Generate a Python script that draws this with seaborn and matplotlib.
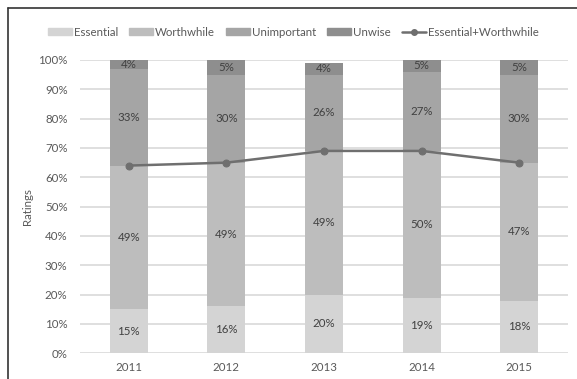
import numpy as np
import pandas as pd
import matplotlib
matplotlib.use("Agg")
import matplotlib.pyplot as plt
from matplotlib.lines import Line2D
from matplotlib.ticker import PercentFormatter
import seaborn as sns

years = ["2011", "2012", "2013", "2014", "2015"]
essential = [15, 16, 20, 19, 18]
worthwhile = [49, 49, 49, 50, 47]
unimportant = [33, 30, 26, 27, 30]
unwise = [4, 5, 4, 5, 5]
series_names = ["Essential", "Worthwhile", "Unimportant", "Unwise"]
combined_name = "Essential+Worthwhile"

colors = ["#d4d4d4", "#bdbdbd", "#a5a5a5", "#8e8e8e"]
line_color = "#6f6f6f"
text_color = "#595959"
grid_color = "#d9d9d9"
fs = 8.3

sns.set_theme(style="white")
plt.rcParams["font.family"] = ["Lato", "DejaVu Sans"]

fig = plt.figure(figsize=(5.77, 3.79), dpi=100)
ax = fig.add_axes([80 / 577, 1 - 353.3 / 379, 488 / 577, 293.3 / 379])

layers = [essential, worthwhile, unimportant, unwise]
bottom = np.zeros(len(years))
handles = []
for name, vals, col in zip(series_names, layers, colors):
    vals = np.array(vals, dtype=float)
    df = pd.DataFrame({"year": years, "value": vals})
    sns.barplot(data=df, x="year", y="value", color=col, bottom=bottom,
                width=0.39, ax=ax, saturation=1, edgecolor="none",
                zorder=2)
    for i, (b, v) in enumerate(zip(bottom, vals)):
        top = min(b + v, 100)
        ax.text(i, (b + top) / 2, f"{int(v)}%", ha="center", va="center",
                fontsize=fs, color="#404040", zorder=4)
    handles.append(plt.Rectangle((0, 0), 1, 1, color=col))
    bottom = bottom + vals

combined = [e + w for e, w in zip(essential, worthwhile)]
sns.lineplot(x=np.arange(len(years)), y=combined, color=line_color,
             linewidth=1.8, marker="o", markersize=5, markeredgecolor=line_color,
             ax=ax, zorder=5)
handles.append(Line2D([0], [0], color=line_color, lw=1.8, marker="o",
                      markersize=4))

ax.set_ylim(0, 100)
ax.set_xlim(-0.5, len(years) - 0.5)
ax.set_yticks(np.arange(0, 101, 10))
ax.yaxis.set_major_formatter(PercentFormatter(decimals=0))
ax.yaxis.grid(True, color=grid_color, linewidth=1.2, zorder=0)
ax.set_axisbelow(True)
for s in ax.spines.values():
    s.set_visible(False)
ax.tick_params(axis="both", length=0, labelsize=fs, labelcolor=text_color)
ax.tick_params(axis="y", pad=9)
ax.tick_params(axis="x", pad=6)
ax.set_xlabel("")
ax.set_ylabel("Ratings", fontsize=fs, color=text_color)
ax.yaxis.set_label_coords(-0.096, 0.5)

fig.legend(handles, series_names + [combined_name], loc="center",
           bbox_to_anchor=(0.508, 1 - 32 / 379), ncol=5, frameon=False,
           fontsize=fs, labelcolor=text_color, handlelength=2.1,
           handleheight=0.6, handletextpad=0.15, columnspacing=0.95)

# chart frame on the left and top
fig.add_artist(Line2D([8 / 577, 8 / 577], [0, 1 - 8 / 379],
                      transform=fig.transFigure, color="#333333", lw=1.2))
fig.add_artist(Line2D([8 / 577, 1], [1 - 8 / 379, 1 - 8 / 379],
                      transform=fig.transFigure, color="#333333", lw=1.2))

fig.savefig("out.png", dpi=100)
